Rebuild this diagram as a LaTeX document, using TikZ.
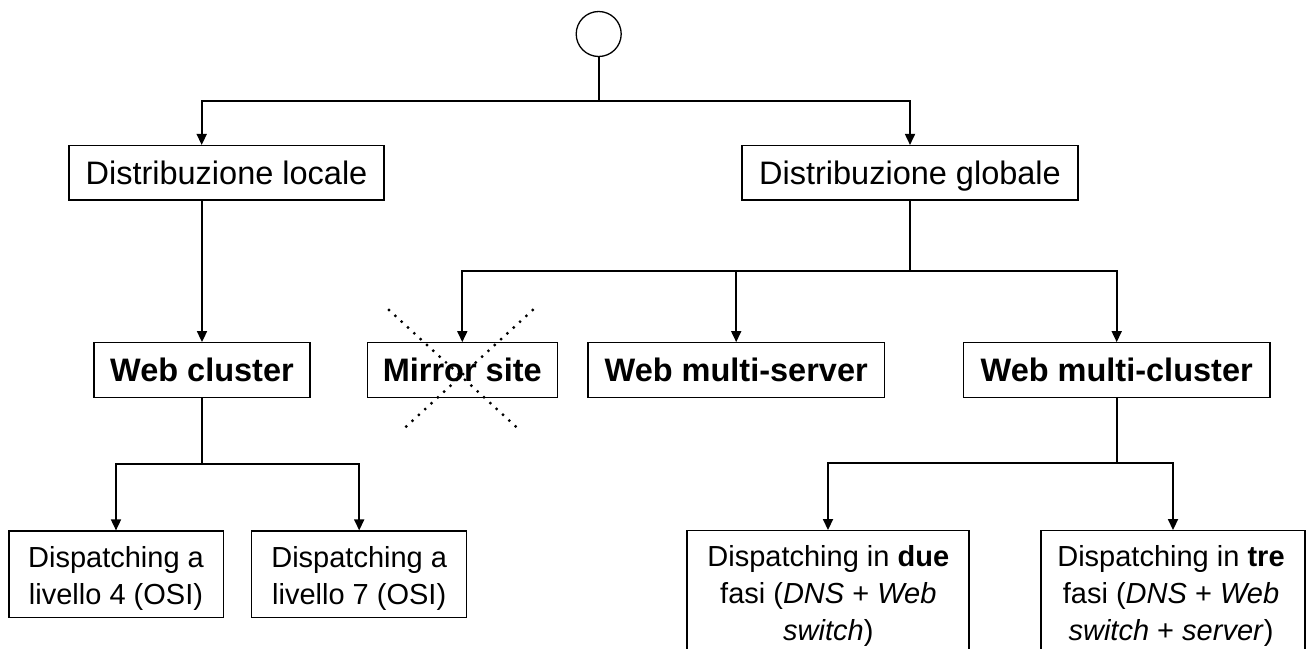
\documentclass[tikz,border=0pt]{standalone}
\usepackage{fontspec}
\setmainfont{Liberation Sans}
\usetikzlibrary{arrows.meta,calc}
\begin{document}
\begin{tikzpicture}[x=1pt,y=-1pt,
  box/.style={draw, line width=1.3pt, inner sep=0pt, minimum height=54.5pt, text height=23.4pt, text depth=0pt, font=\fontsize{32.5}{39}\selectfont},
  bbox/.style={box, font=\fontsize{32.5}{39}\selectfont\bfseries},
  tbox/.style={draw, line width=1.3pt, inner sep=0pt},
  txt/.style={inner sep=0pt, align=center, font=\fontsize{29}{37}\selectfont},
  conn/.style={line width=1.7pt},
  arr/.style={conn, -{Triangle[length=11pt,width=10pt]}},
  cross/.style={line width=3.2pt, line cap=round, dash pattern=on 0pt off 8.6pt}]
\useasboundingbox (0,0) rectangle (1306,648);
\clip (0,0) rectangle (1306,648);

% nodes
\node[draw, circle, line width=1.3pt, minimum size=45pt, inner sep=0pt] (top) at (598.7,34) {};
\node[box, minimum width=315pt] (dl) at (226.5,172.85) {Distribuzione locale};
\node[box, minimum width=336pt] (dg) at (910,172.85) {Distribuzione globale};
\node[bbox, minimum width=216pt] (wc) at (202,370) {Web cluster};
\node[bbox, minimum width=190pt] (ms) at (462.3,370) {Mirror site};
\node[bbox, minimum width=296.6pt] (wms) at (736.2,370) {Web multi-server};
\node[bbox, minimum width=306.7pt] (wmc) at (1116.7,370) {Web multi-cluster};

\node[tbox, minimum width=214.3pt, minimum height=86.3pt] (d4) at (116,574.2) {};
\node[txt] (d4t) at (116,578) {Dispatching a\\livello 4 (OSI)};
\node[tbox, minimum width=215pt, minimum height=86.3pt] (d7) at (359.2,574.2) {};
\node[txt] (d7t) at (359.2,578) {Dispatching a\\livello 7 (OSI)};

\node[tbox, minimum width=282pt, minimum height=169.3pt] (d2) at (828,615.35) {};
\node[txt] (d2t) at (828.3,596) {Dispatching in \textbf{due}\\fasi (\textit{DNS} + \textit{Web}\\\textit{switch})};
\node[tbox, minimum width=264pt, minimum height=169.3pt] (d3) at (1173,615.35) {};
\node[txt] (d3t) at (1171,596) {Dispatching in \textbf{tre}\\fasi (\textit{DNS} + \textit{Web}\\\textit{switch} + \textit{server})};

% connectors
\coordinate (j0) at (top.south |- 0,100.7);
\coordinate (a1) at (201.7,100.7);
\draw[conn] (top.south) -- (j0);
\draw[arr] (j0) -- (a1) -- (a1 |- dl.north);
\draw[arr] (j0) -| (dg.north);
\draw[arr] (dl.south -| wc.north) -- (wc.north);

\coordinate (j1) at (dg.south |- 0,271);
\draw[conn] (dg.south) -- (j1);
\draw[arr] (j1) -| (ms.north);
\draw[arr] (j1) -| (wmc.north);
\draw[arr] (wms.north |- j1) -- (wms.north);

\coordinate (j2) at (wc.south |- 0,464.3);
\draw[conn] (wc.south) -- (j2);
\draw[arr] (j2) -| (d4.north);
\draw[arr] (j2) -| (d7.north);

\coordinate (j3) at (wmc.south |- 0,463.3);
\draw[conn] (wmc.south) -- (j3);
\draw[arr] (j3) -| (d2.north);
\draw[arr] (j3) -| (d3.north);

% crossing out
\draw[cross] (389,310) -- (517.7,428.3);
\draw[cross] (532.7,310) -- (404.3,428.3);
\end{tikzpicture}
\end{document}
